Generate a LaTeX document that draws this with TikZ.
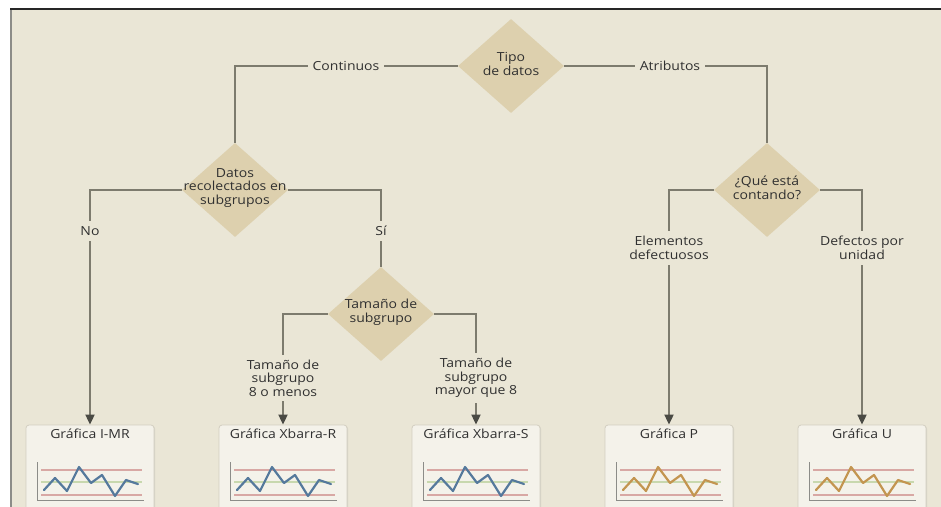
\documentclass[tikz,border=0pt]{standalone}
\usepackage{fontspec}
\setmainfont{Open Sans}[FakeStretch=1.12]
\usetikzlibrary{shapes.geometric,arrows.meta,shadows}

\definecolor{bg}{HTML}{EAE6D6}
\definecolor{dia}{HTML}{DDD0AE}
\definecolor{ln}{HTML}{7D7B6E}
\definecolor{tip}{HTML}{4A4A44}
\definecolor{txt}{HTML}{303030}
\definecolor{boxfill}{HTML}{F4F2EA}
\definecolor{boxedge}{HTML}{D3CFC1}
\definecolor{limred}{HTML}{D8A8A4}
\definecolor{cgreen}{HTML}{C8D8AE}
\definecolor{sblue}{HTML}{55799C}
\definecolor{ochre}{HTML}{C39550}
\definecolor{axis}{HTML}{8C8C88}

\tikzset{
  txtstyle/.style={text=txt, font=\fontsize{12.5}{13.5}\selectfont, align=center},
  % fixed-size diamond; its text is set as a centred label so it never grows
  decision/.style={diamond, fill=dia, minimum width=106pt, minimum height=94pt,
                   inner sep=0pt, label={[txtstyle, yshift=2pt]center:#1}},
  lbl/.style={fill=bg, inner sep=5pt, txtstyle},
  conn/.style={draw=ln, line width=1.8pt},
  arr/.style={conn, -{Triangle[length=10pt,width=9pt,fill=tip,color=tip]}},
  chartbox/.style={rectangle, rounded corners=3pt, fill=boxfill, draw=boxedge,
                   line width=0.8pt, minimum width=128pt, minimum height=96pt,
                   drop shadow={shadow xshift=1.2pt, shadow yshift=-1.2pt, opacity=0.18}},
  charttitle/.style={txtstyle},
}

% small control chart drawn under a box title; #1 = centre x, #2 = trace colour
\newcommand\minichart[2]{%
  \begin{scope}[shift={(#1,0)}]
    \draw[limred, line width=1.5pt] (-49,470) -- (52,470);
    \draw[limred, line width=1.5pt] (-49,495) -- (52,495);
    \draw[cgreen, line width=1.5pt] (-49,482) -- (52,482);
    \draw[axis, line width=1pt] (-53,462) -- (-53,500) -- (54,500);
    \draw[#2, line width=2.2pt, line join=round, line cap=round]
      (-46,490) -- (-35,478) -- (-23,491) -- (-11,467) -- (1,483)
      -- (12,475) -- (25,496) -- (36,480) -- (48,484);
  \end{scope}}

\begin{document}
\begin{tikzpicture}[x=1pt, y=-1pt]
  \path[use as bounding box] (0,0) rectangle (941,506);

  % panel
  \fill[bg] (10,9) rectangle (941,510);
  \draw[axis, line width=2pt] (11,9) -- (11,510);
  \draw[black!85, line width=1.4pt] (10,9) -- (941,9);

  % decisions
  \node[decision={Tipo\\de datos}] (tipo) at (511,66) {};
  \node[decision={Datos\\recolectados en\\subgrupos}] (datos) at (235,190) {};
  \node[decision={¿Qué está\\contando?}] (que) at (767,190) {};
  \node[decision={Tamaño de\\subgrupo}] (tam) at (381,314) {};

  % result boxes
  \node[chartbox] (b1) at (90,473)  {};
  \node[chartbox] (b2) at (283,473) {};
  \node[chartbox] (b3) at (476,473) {};
  \node[chartbox] (b4) at (669,473) {};
  \node[chartbox] (b5) at (862,473) {};

  \node[charttitle] (t1) at (90,434)  {Gráfica I-MR};
  \node[charttitle] (t2) at (283,434) {Gráfica Xbarra-R};
  \node[charttitle] (t3) at (476,434) {Gráfica Xbarra-S};
  \node[charttitle] (t4) at (669,434) {Gráfica P};
  \node[charttitle] (t5) at (862,434) {Gráfica U};

  \minichart{90}{sblue}
  \minichart{283}{sblue}
  \minichart{476}{sblue}
  \minichart{669}{ochre}
  \minichart{862}{ochre}

  % connectors
  \draw[conn] (tipo.west) -| (datos.north);
  \draw[conn] (tipo.east) -| (que.north);
  \draw[arr]  (datos.west) -| (b1.north);
  \draw[conn] (datos.east) -| (tam.north);
  \draw[arr]  (tam.west) -| (b2.north);
  \draw[arr]  (tam.east) -| (b3.north);
  \draw[arr]  (que.west) -| (b4.north);
  \draw[arr]  (que.east) -| (b5.north);

  % branch labels
  \node[lbl] (lcont) at (346,66)  {Continuos};
  \node[lbl] (latr)  at (670,66)  {Atributos};
  \node[lbl] (lno)   at (90,231)  {No};
  \node[lbl] (lsi)   at (381,231) {Sí};
  \node[lbl] (lmen)  at (283,378) {Tamaño de\\subgrupo\\8 o menos};
  \node[lbl] (lmay)  at (476,378) {Tamaño de\\subgrupo\\mayor que 8};
  \node[lbl] (ldef)  at (669,248) {Elementos\\defectuosos};
  \node[lbl] (luni)  at (862,248) {Defectos por\\unidad};
\end{tikzpicture}
\end{document}
